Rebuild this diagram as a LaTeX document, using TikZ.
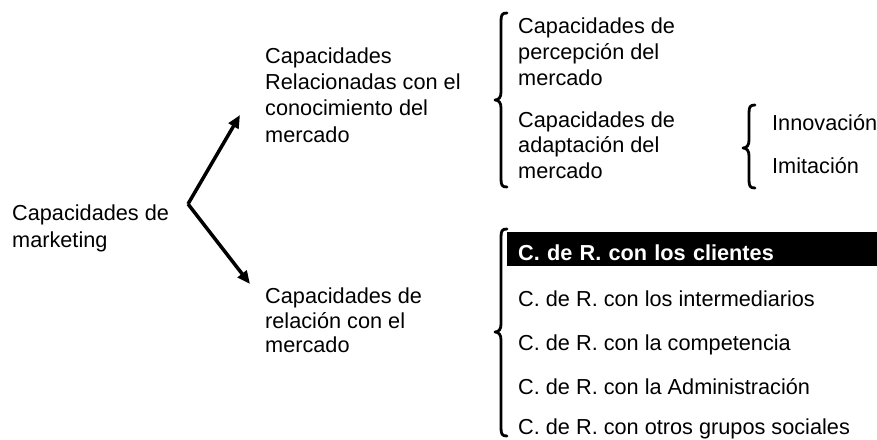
\documentclass[tikz,border=0pt]{standalone}
\usepackage{fontspec}
\setmainfont{Liberation Sans}
\usetikzlibrary{arrows.meta}
\newcommand{\drawbrace}[4]{% x, top, mid, bottom
  \draw[bracestyle] ({#1+6},#2) .. controls ({#1+1},#2) and (#1,{#2+2}) .. (#1,{#2+8})
    -- (#1,{#3-8}) .. controls (#1,{#3-3}) and ({#1-2},#3) .. ({#1-6},#3)
    .. controls ({#1-2},#3) and (#1,{#3+3}) .. (#1,{#3+8})
    -- (#1,{#4-8}) .. controls (#1,{#4-2}) and ({#1+1},#4) .. ({#1+6},#4);}
\begin{document}
\begin{tikzpicture}[x=1pt,y=-1pt,
  txt/.style={inner sep=0pt, align=left, anchor=north west, font=\fontsize{21.7}{26}\selectfont},
  line/.style={inner sep=0pt, anchor=base west, font=\fontsize{21.7}{26}\selectfont},
  bracestyle/.style={line width=2.8pt, line cap=round, line join=round},
  arr/.style={line width=3.5pt, -{Triangle[length=13pt,width=11pt]}},
  hilite/.style={fill=black, text=white, anchor=west, minimum width=370pt, minimum height=34pt,
    text height=22pt, text depth=0pt, inner xsep=11pt, inner ysep=0pt, text width=348pt,
    align=left, font=\fontsize{21.7}{26}\selectfont\bfseries}]
\useasboundingbox (0,0) rectangle (877,439);

% left
\node[txt, font=\fontsize{21.7}{27}\selectfont] (mk) at (12,204.4) {Capacidades de\\marketing};

% middle
\node[txt, font=\fontsize{21.7}{26.3}\selectfont] (con) at (265,47.4) {Capacidades\\Relacionadas con el\\conocimiento del\\mercado};
\node[txt, font=\fontsize{21.7}{24.5}\selectfont] (rel) at (265,288) {Capacidades de\\relación con el\\mercado};

% arrows
\coordinate (v) at (188,204);
\coordinate (tu) at (240,115);
\coordinate (td) at (250,284);
\draw[arr] (v) -- (tu);
\draw[arr] (v) -- (td);

% top right
\node[txt] (perc) at (518,17.4) {Capacidades de\\percepción del\\mercado};
\node[txt, font=\fontsize{21.7}{25.5}\selectfont] (adap) at (518,111.4) {Capacidades de\\adaptación del\\mercado};
\drawbrace{501}{13}{100}{187}

\node[line] (inn) at (772,130) {Innovación};
\node[line] (imi) at (772,173) {Imitación};
\drawbrace{749}{105}{148}{188}

% bottom right
\node[hilite] (r1) at (507,249) {C. de R. con los clientes};
\node[line] (r2) at (518,306) {C. de R. con los intermediarios};
\node[line] (r3) at (518,350) {C. de R. con la competencia};
\node[line] (r4) at (518,394) {C. de R. con la Administración};
\node[line] (r5) at (518,434) {C. de R. con otros grupos sociales};
\drawbrace{501}{229}{332}{436}
\end{tikzpicture}
\end{document}
